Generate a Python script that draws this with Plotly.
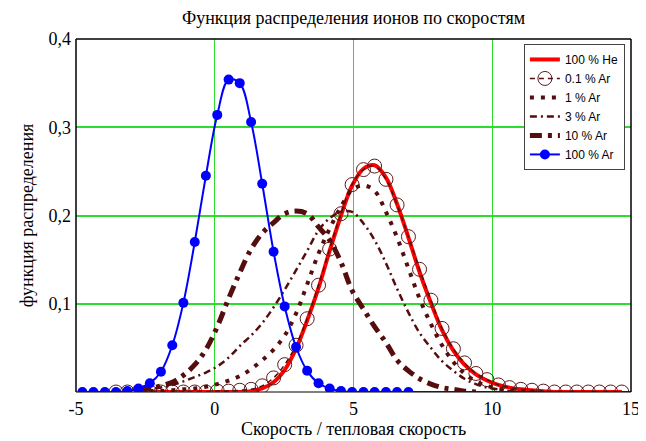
import plotly.graph_objects as go

# ---------------- data ----------------
x_grid = [-4.77, -4.37, -3.96, -3.56, -3.15, -2.75, -2.34, -1.94, -1.53, -1.13,
          -0.72, -0.32, 0.09, 0.50, 0.90, 1.31, 1.71, 2.12, 2.52, 2.93,
          3.33, 3.74, 4.14, 4.55, 4.95, 5.36, 5.76, 6.17, 6.57, 6.98,
          7.38, 7.79, 8.19, 8.60, 9.00, 9.41, 9.81, 10.22, 10.62, 11.03,
          11.43, 11.84, 12.24, 12.65, 13.05, 13.46, 13.86, 14.27, 14.67]

# 100 % He (grid index 5 .. 48)
he100 = [0.000, 0.000, 0.000, 0.000, 0.000, 0.000, 0.000, 0.000, 0.000, 0.000,
         0.001, 0.004, 0.011, 0.025, 0.049, 0.081, 0.118, 0.160, 0.200, 0.234,
         0.253, 0.257, 0.243, 0.213, 0.175, 0.136, 0.101, 0.070, 0.047, 0.031,
         0.020, 0.013, 0.008, 0.005, 0.003, 0.002, 0.001, 0.000, 0.000, 0.000,
         0.000, 0.000, 0.000, 0.000]

# 0.1 % Ar (grid index 3 .. 48)
ar01 = [0.000, 0.000, 0.000, 0.000, 0.000, 0.000, 0.000, 0.000, 0.000, 0.001,
        0.001, 0.002, 0.003, 0.007, 0.016, 0.031, 0.053, 0.083, 0.121, 0.162,
        0.202, 0.235, 0.252, 0.256, 0.241, 0.212, 0.176, 0.139, 0.104, 0.072,
        0.049, 0.033, 0.021, 0.014, 0.008, 0.005, 0.003, 0.002, 0.001, 0.000,
        0.000, 0.000, 0.000, 0.000, 0.000, 0.000]

# 1 % Ar (grid index 5 .. 40)
ar1 = [0.000, 0.001, 0.001, 0.002, 0.003, 0.004, 0.006, 0.009, 0.013, 0.018,
       0.026, 0.036, 0.048, 0.064, 0.089, 0.122, 0.157, 0.185, 0.210, 0.229,
       0.234, 0.228, 0.204, 0.175, 0.140, 0.106, 0.077, 0.053, 0.034, 0.021,
       0.012, 0.007, 0.004, 0.002, 0.001, 0.000]

# 3 % Ar (grid index 5 .. 39)
ar3 = [0.002, 0.003, 0.005, 0.008, 0.012, 0.017, 0.022, 0.029, 0.039, 0.052,
       0.064, 0.078, 0.096, 0.116, 0.138, 0.160, 0.183, 0.197, 0.204, 0.204,
       0.191, 0.172, 0.146, 0.117, 0.090, 0.067, 0.050, 0.035, 0.024, 0.015,
       0.009, 0.005, 0.003, 0.001, 0.000]

# 10 % Ar (grid index 5 .. 35)
ar10 = [0.002, 0.004, 0.007, 0.011, 0.019, 0.031, 0.048, 0.074, 0.106, 0.135,
        0.162, 0.180, 0.192, 0.202, 0.205, 0.202, 0.187, 0.172, 0.147, 0.115,
        0.094, 0.074, 0.056, 0.036, 0.024, 0.015, 0.009, 0.005, 0.003, 0.001,
        0.000]

# 100 % Ar (grid index 0 .. 29, then zero out to the right edge)
ar100 = [0.000, 0.000, 0.000, 0.000, 0.001, 0.004, 0.010, 0.023, 0.053, 0.101,
         0.170, 0.245, 0.314, 0.354, 0.350, 0.306, 0.236, 0.159, 0.097, 0.051,
         0.024, 0.010, 0.004, 0.001, 0.000, 0.000, 0.000, 0.000, 0.000, 0.000]
ar100_tail_x = [6.98, 15.0]
ar100_tail = [0.000, 0.000]

names = ["100 % He", "0.1 % Ar", "1 % Ar", "3 % Ar", "10 % Ar", "100 % Ar"]
x_ticks = [-5, 0, 5, 10, 15]
x_ticktext = ["-5", "0", "5", "10", "15"]
y_ticks = [0.1, 0.2, 0.3, 0.4]
y_ticktext = ["0,1", "0,2", "0,3", "0,4"]

title_text = "Функция распределения ионов по скоростям"
x_title = "Скорость / тепловая скорость"
y_title = "функция распределения"

# ---------------- figure ----------------
BROWN = "#560d0d"
SERIF = "Liberation Serif"
FS = 18
# the page body has an 8 px margin, so the figure is sized to fit the window
W, H = 638, 433

fig = go.Figure()

fig.add_trace(go.Scatter(x=x_grid[5:5 + len(he100)], y=he100, name=names[0],
                         mode="lines", line=dict(color="#ff0000", width=4, shape="spline")))
fig.add_trace(go.Scatter(x=x_grid[3:3 + len(ar01)], y=ar01, name=names[1],
                         mode="lines+markers",
                         line=dict(color=BROWN, width=1.5, dash="5px,4px", shape="spline"),
                         marker=dict(symbol="circle-open", size=14, color="#5a1c1c",
                                     line=dict(width=1))))
fig.add_trace(go.Scatter(x=x_grid[5:5 + len(ar1)], y=ar1, name=names[2],
                         mode="lines", line=dict(color=BROWN, width=4, dash="4px,7px", shape="spline")))
fig.add_trace(go.Scatter(x=x_grid[5:5 + len(ar3)], y=ar3, name=names[3],
                         mode="lines", line=dict(color=BROWN, width=2.5, dash="7px,4px,2px,4px", shape="spline")))
fig.add_trace(go.Scatter(x=x_grid[5:5 + len(ar10)], y=ar10, name=names[4],
                         mode="lines", line=dict(color=BROWN, width=5, dash="12px,6px,4px,6px", shape="spline")))
fig.add_trace(go.Scatter(x=ar100_tail_x, y=ar100_tail, showlegend=False, hoverinfo="skip",
                         mode="lines", line=dict(color="#0000ff", width=2)))
fig.add_trace(go.Scatter(x=x_grid[:len(ar100)], y=ar100, name=names[5],
                         mode="lines+markers", line=dict(color="#0000ff", width=2, shape="spline"),
                         marker=dict(symbol="circle", size=10, color="#0000ff")))

GRID = "#2edc2e"
fig.update_layout(
    width=W, height=H,
    margin=dict(l=68, r=15, t=31, b=49),
    paper_bgcolor="white", plot_bgcolor="white",
    separators=", ",
    font=dict(family=SERIF, size=FS, color="black"),
    title=dict(text=title_text, x=0.5, xref="paper", xanchor="center",
               y=1 - 10 / H, yanchor="middle", font=dict(family=SERIF, size=FS),
               automargin=False),
    xaxis=dict(range=[-5, 15], tickvals=x_ticks, ticktext=x_ticktext,
               showgrid=True, gridcolor=GRID, gridwidth=1, zeroline=False,
               showline=False, ticks="", ticklabelstandoff=4, automargin=False,
               title=dict(text=x_title, standoff=3, font=dict(family=SERIF, size=FS))),
    yaxis=dict(range=[0, 0.4], tickvals=y_ticks, ticktext=y_ticktext,
               showgrid=True, gridcolor=GRID, gridwidth=1.5, zeroline=False,
               showline=False, ticks="", ticklabelstandoff=4, automargin=False,
               title=dict(text=y_title, standoff=10, font=dict(family=SERIF, size=FS))),
    legend=dict(x=0.989, y=0.986, xanchor="right", yanchor="top",
                bgcolor="white", bordercolor="#444444", borderwidth=1,
                font=dict(family="Liberation Sans", size=12, color="black"),
                tracegroupgap=0, itemwidth=30),
    showlegend=True,
    shapes=[
        dict(type="line", xref="paper", yref="paper", x0=0, x1=1, y0=0, y1=0,
             line=dict(color="#808080", width=2), layer="below"),
        dict(type="line", xref="paper", yref="paper", x0=0, x1=1, y0=1, y1=1,
             line=dict(color="black", width=1.5), layer="above"),
        dict(type="line", xref="paper", yref="paper", x0=0, x1=0, y0=0, y1=1,
             line=dict(color="black", width=1.5), layer="above"),
        dict(type="line", xref="paper", yref="paper", x0=1, x1=1, y0=0, y1=1,
             line=dict(color="black", width=1.5), layer="above"),
    ],
)

fig.write_html("out.html")
